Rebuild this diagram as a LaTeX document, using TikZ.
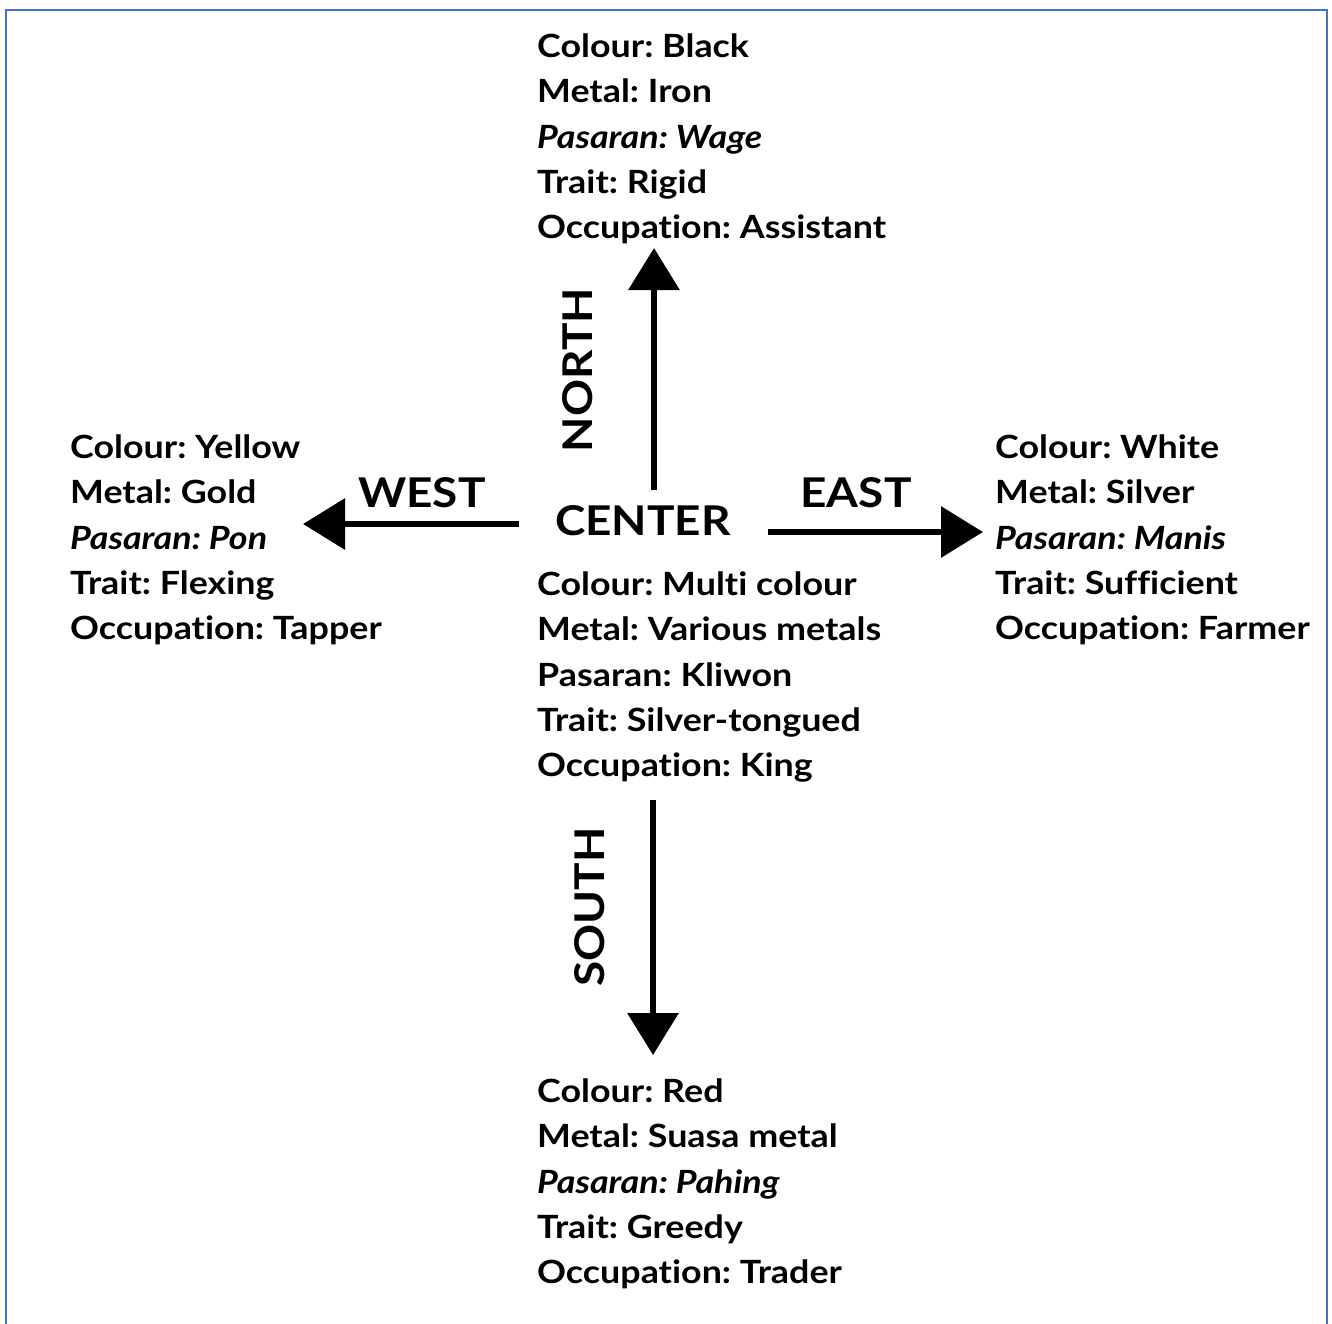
\documentclass[tikz,border=0pt]{standalone}
\usepackage{fontspec}
\setmainfont{Lato}[FakeStretch=1.12, Ligatures=NoCommon]
\usetikzlibrary{arrows.meta}
\definecolor{frameblue}{HTML}{4472C4}
\frenchspacing

\begin{document}
\begin{tikzpicture}[x=1pt,y=-1pt,
            info/.style={anchor=west, align=left, inner sep=0pt,
                font=\fontsize{32}{45.3}\selectfont\bfseries},
            compass/.style={inner sep=0pt, font=\fontsize{41}{41}\selectfont\bfseries},
            pointer/.style={line width=6.5pt, -{Triangle[width=50pt,length=42pt]}}]

            \useasboundingbox (0,0) rectangle (1332,1323);
            \draw[frameblue, line width=2.5pt] (6,1330) -- (6,10) -- (1327,10) -- (1327,1330);

            % the five blocks
            \node[info] (north) at (537,139) {Colour: Black\\ Metal: Iron\\ \textit{Pasaran: Wage}\\ Trait: Rigid\\ Occupation: Assistant};
            \node[info] (middle) at (537,677) {Colour: Multi colour\\ Metal: Various metals\\ Pasaran: Kliwon\\ Trait: Silver-tongued\\ Occupation: King};
            \node[info] (south) at (537,1184) {Colour: Red\\ Metal: Suasa metal\\ \textit{Pasaran: Pahing}\\ Trait: Greedy\\ Occupation: Trader};
            \node[info] (west) at (70,540) {Colour: Yellow\\ Metal: Gold\\ \textit{Pasaran: Pon}\\ Trait: Flexing\\ Occupation: Tapper};
            \node[info] (east) at (995,540) {Colour: White\\ Metal: Silver\\ \textit{Pasaran: Manis}\\ Trait: Sufficient\\ Occupation: Farmer};

            % direction labels
            \node[compass] (center) at (643,521) {CENTER};
            \node[compass] (westlbl) at (422,493) {WEST};
            \node[compass] (eastlbl) at (856,493) {EAST};
            \node[compass, rotate=90] (northlbl) at (578,370) {NORTH};
            \node[compass, rotate=90] (southlbl) at (590,907) {SOUTH};

            % arrows
            \coordinate (n0) at (654,490);
            \coordinate (n1) at (654,248);
            \coordinate (s0) at (653,800);
            \coordinate (s1) at (653,1055);
            \coordinate (w0) at (519,524);
            \coordinate (w1) at (303,524);
            \coordinate (e0) at (768,532);
            \coordinate (e1) at (983,532);
            \draw[pointer] (n0) -- (n1);
            \draw[pointer] (s0) -- (s1);
            \draw[pointer] (w0) -- (w1);
            \draw[pointer] (e0) -- (e1);
        \end{tikzpicture}
\end{document}
